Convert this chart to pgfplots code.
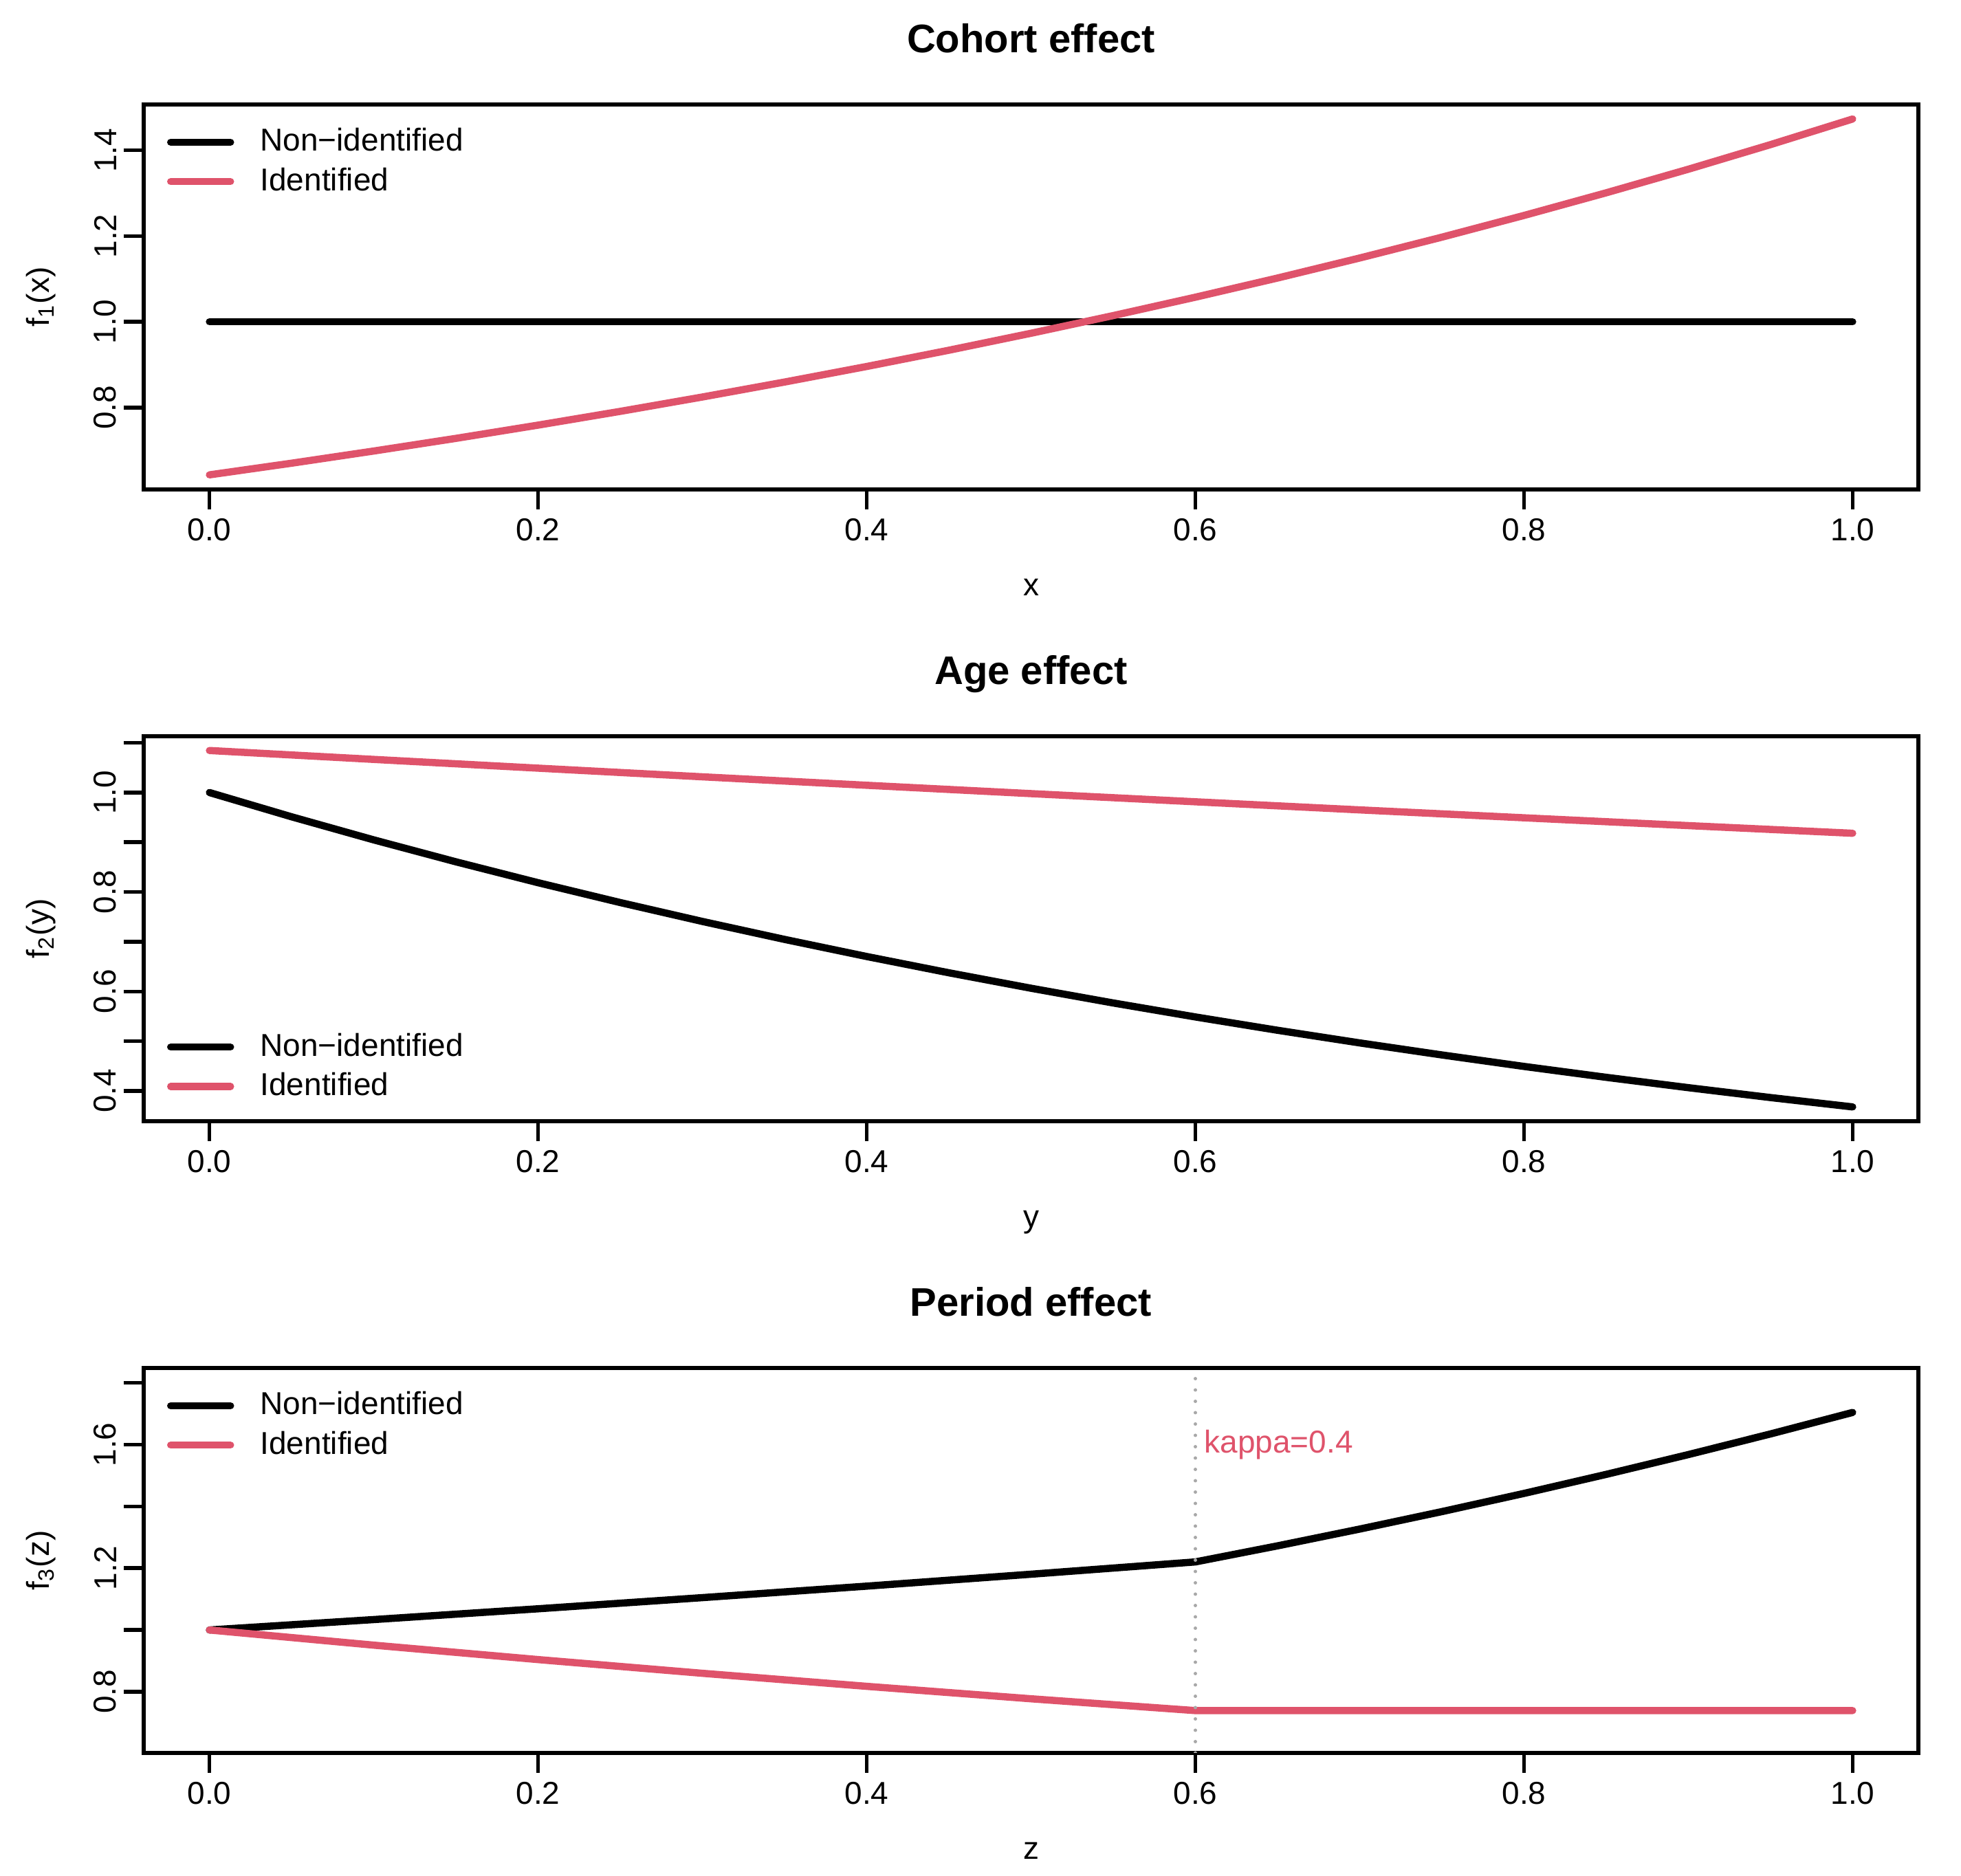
\documentclass[border=0pt]{standalone}
\usepackage{fontspec}
\setmainfont{Liberation Sans}
\usepackage{pgfplots}
\pgfplotsset{compat=1.18}

\definecolor{rred}{HTML}{DF536B}
\definecolor{vgray}{HTML}{A8A8A8}

% one R-style base-graphics panel; 1px of the reference = 0.2pt
\pgfplotsset{
  rpanel/.style={
    scale only axis, width=516.2pt, height=112pt,
    anchor=south west,
    xmin=-0.04, xmax=1.04,
    axis line style={line width=1.1pt},
    tick style={line width=1.1pt, black},
    tick align=outside, major tick length=5.8pt,
    tick pos=left,
    xtick={0,0.2,0.4,0.6,0.8,1.0},
    xticklabels={0.0,0.2,0.4,0.6,0.8,1.0},
    ticklabel style={font=\fontsize{9.2}{11}\selectfont, inner sep=0pt},
    xticklabel style={anchor=north},
    yticklabel style={rotate=90, anchor=south},
    xticklabel shift=2.4pt, yticklabel shift=2pt,
    label style={font=\fontsize{9.2}{11}\selectfont, inner sep=0pt},
    xlabel style={at={(axis description cs:0.5,0)}, anchor=base, yshift=-31pt},
    % rotated label: yshift moves it to the left
    ylabel style={at={(axis description cs:0,0.5)}, anchor=center, yshift=29.8pt},
    every axis title shift=0pt,
    title style={at={(axis description cs:0.5,1)}, anchor=base, yshift=15pt,
      font=\bfseries\fontsize{11.6}{13}\selectfont, inner sep=0pt},
    legend image code/.code={\draw[##1, line width=2.1pt, line cap=round] (0pt,0pt) -- (17.4pt,0pt);},
    legend cell align=left,
    legend style={draw=none, fill=none, inner sep=0pt, outer sep=0pt,
      font=\fontsize{9.2}{11}\selectfont, row sep=3.3pt, column sep=7.6pt,
      nodes={inner sep=0pt}},
    every axis plot/.append style={line width=2.1pt, line cap=round, line join=round},
  },
  legtop/.style={legend style={at={(axis description cs:0,1)}, anchor=north west, xshift=6.8pt, yshift=-6.9pt}},
  legbot/.style={legend style={at={(axis description cs:0,0)}, anchor=south west, xshift=6.8pt, yshift=6pt}},
}

\begin{document}
\begin{tikzpicture}
\path[use as bounding box] (0,0) rectangle (570.4pt,545.8pt);

% Cohort effect
\begin{axis}[rpanel, legtop, at={(41.8pt,403.4pt)},
  title={Cohort effect}, xlabel={x}, ylabel={f\textsubscript{1}(x)},
  ymin=0.609, ymax=1.507,
  ytick={0.8,1.0,1.2,1.4}, yticklabels={0.8,1.0,1.2,1.4}]
\addplot[black] coordinates {(0,1) (1,1)};
\addlegendentry{Non−identified}
\addplot[rred] coordinates {
  (0,0.6430) (0.05,0.6702) (0.1,0.6986) (0.15,0.7281) (0.2,0.7590)
  (0.25,0.7911) (0.3,0.8246) (0.35,0.8595) (0.4,0.8958) (0.45,0.9337)
  (0.5,0.9733) (0.55,1.0145) (0.6,1.0574) (0.65,1.1021) (0.7,1.1488)
  (0.75,1.1974) (0.8,1.2481) (0.85,1.3009) (0.9,1.3559) (0.95,1.4133) (1,1.4731)};
\addlegendentry{Identified}
\end{axis}

% Age effect
\begin{axis}[rpanel, legbot, at={(41.8pt,219.6pt)},
  title={Age effect}, xlabel={y}, ylabel={f\textsubscript{2}(y)},
  ymin=0.3392, ymax=1.1132,
  ytick={0.4,0.5,0.6,0.7,0.8,0.9,1.0,1.1}, yticklabels={0.4,,0.6,,0.8,,1.0,}]
\addplot[black] coordinates {
  (0,1.0000) (0.05,0.9512) (0.1,0.9048) (0.15,0.8607) (0.2,0.8187)
  (0.25,0.7788) (0.3,0.7408) (0.35,0.7047) (0.4,0.6703) (0.45,0.6376)
  (0.5,0.6065) (0.55,0.5769) (0.6,0.5488) (0.65,0.5220) (0.7,0.4966)
  (0.75,0.4724) (0.8,0.4493) (0.85,0.4274) (0.9,0.4066) (0.95,0.3867) (1,0.3679)};
\addlegendentry{Non−identified}
\addplot[rred] coordinates {
  (0,1.0845) (0.1,1.0666) (0.2,1.0490) (0.3,1.0316) (0.4,1.0146)
  (0.5,0.9978) (0.6,0.9814) (0.7,0.9651) (0.8,0.9492) (0.9,0.9335) (1,0.9181)};
\addlegendentry{Identified}
\end{axis}

% Period effect
\begin{axis}[rpanel, legtop, at={(41.8pt,35.8pt)},
  title={Period effect}, xlabel={z}, ylabel={f\textsubscript{3}(z)},
  ymin=0.602, ymax=1.848,
  ytick={0.8,1.0,1.2,1.4,1.6,1.8}, yticklabels={0.8,,1.2,,1.6,}]
\addplot[black] coordinates {
  (0,1.0000) (0.1,1.0337) (0.2,1.0686) (0.3,1.1047) (0.4,1.1419) (0.5,1.1805)
  (0.6,1.2203) (0.65,1.2723) (0.7,1.3266) (0.75,1.3831) (0.8,1.4420)
  (0.85,1.5036) (0.9,1.5677) (0.95,1.6345) (1,1.7041)};
\addlegendentry{Non−identified}
\addplot[rred] coordinates {
  (0,1.0000) (0.1,0.9509) (0.2,0.9042) (0.3,0.8598) (0.4,0.8176) (0.5,0.7773)
  (0.6,0.7391) (0.8,0.7391) (1,0.7391)};
\addlegendentry{Identified}
\addplot[vgray, line width=1pt, line cap=round, dash pattern=on 0pt off 3.3pt, forget plot]
  coordinates {(0.6,0.602) (0.6,1.848)};
\node[anchor=base west, inner sep=0pt, text=rred, font=\fontsize{9.2}{11}\selectfont,
  xshift=2.4pt, yshift=-2.34pt] at (axis cs:0.6,1.6) {kappa=0.4};
\end{axis}
\end{tikzpicture}
\end{document}
